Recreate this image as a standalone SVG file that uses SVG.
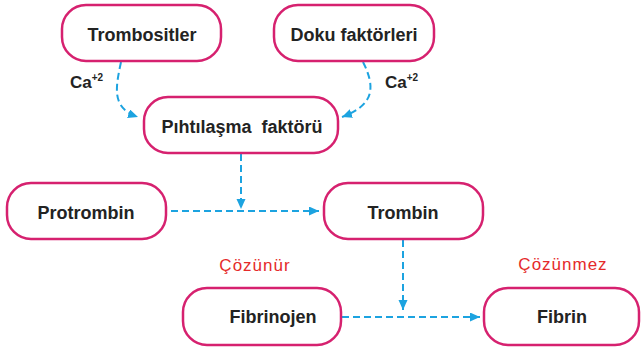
<svg xmlns="http://www.w3.org/2000/svg" width="641" height="352" viewBox="0 0 641 352">
  <style>
    .box { fill: #ffffff; stroke: #d6216f; stroke-width: 2.5; }
    .lbl { font-family: "Liberation Sans", Arial, sans-serif; font-weight: bold; font-size: 18px; fill: #232323; text-anchor: middle; }
    .ca { font-family: "Liberation Sans", Arial, sans-serif; font-weight: bold; font-size: 17px; fill: #232323; }
    .note { font-family: "Liberation Sans", Arial, sans-serif; font-size: 17px; fill: #e52a2a; text-anchor: middle; letter-spacing: 1px; }
    .link { fill: none; stroke: #1ca3e0; stroke-width: 2; stroke-dasharray: 7 4; }
  </style>
  <defs>
    <marker id="arrow" markerUnits="userSpaceOnUse" markerWidth="11" markerHeight="10" refX="10" refY="4.5" orient="auto">
      <path d="M0,0 L10,4.5 L0,9 z" fill="#1ca3e0"/>
    </marker>
  </defs>
  <rect width="641" height="352" fill="#ffffff"/>

  <g id="connectors">
    <path class="link" d="M121,62 C115,90 112,108 138,117" marker-end="url(#arrow)"/>
    <path class="link" d="M363,62 C376,88 374,105 342,117" marker-end="url(#arrow)"/>
    <path class="link" d="M241,154 L241,209" marker-end="url(#arrow)"/>
    <path class="link" d="M171,211 L319,211" marker-end="url(#arrow)"/>
    <path class="link" d="M403,240 L403,310" marker-end="url(#arrow)"/>
    <path class="link" d="M342,317 L480,317" marker-end="url(#arrow)"/>
  </g>

  <g id="trombositler">
    <rect class="box" x="62" y="5" width="159" height="56" rx="24"/>
    <text class="lbl" x="142" y="41">Trombositler</text>
  </g>
  <g id="doku-faktorleri">
    <rect class="box" x="274" y="5" width="160" height="56" rx="24"/>
    <text class="lbl" x="354" y="41">Doku faktörleri</text>
  </g>
  <g id="ca-left">
    <text class="ca" x="70" y="88">Ca<tspan font-size="10" dy="-7">+2</tspan></text>
  </g>
  <g id="ca-right">
    <text class="ca" x="385" y="88">Ca<tspan font-size="10" dy="-7">+2</tspan></text>
  </g>
  <g id="pihtilasma-faktoru">
    <rect class="box" x="144" y="97" width="194" height="56" rx="24"/>
    <text class="lbl" x="242" y="133" xml:space="preserve">Pıhtılaşma  faktörü</text>
  </g>
  <g id="protrombin">
    <rect class="box" x="7" y="183" width="159" height="56" rx="24"/>
    <text class="lbl" x="86" y="219">Protrombin</text>
  </g>
  <g id="trombin">
    <rect class="box" x="324" y="183" width="159" height="56" rx="24"/>
    <text class="lbl" x="403" y="219">Trombin</text>
  </g>
  <g id="cozunur">
    <text class="note" x="255" y="271">Çözünür</text>
  </g>
  <g id="cozunmez">
    <text class="note" x="563" y="270">Çözünmez</text>
  </g>
  <g id="fibrinojen">
    <rect class="box" x="183" y="288" width="158" height="57" rx="24"/>
    <text class="lbl" x="273" y="323">Fibrinojen</text>
  </g>
  <g id="fibrin">
    <rect class="box" x="484" y="288" width="155" height="57" rx="24"/>
    <text class="lbl" x="562" y="323">Fibrin</text>
  </g>
</svg>
